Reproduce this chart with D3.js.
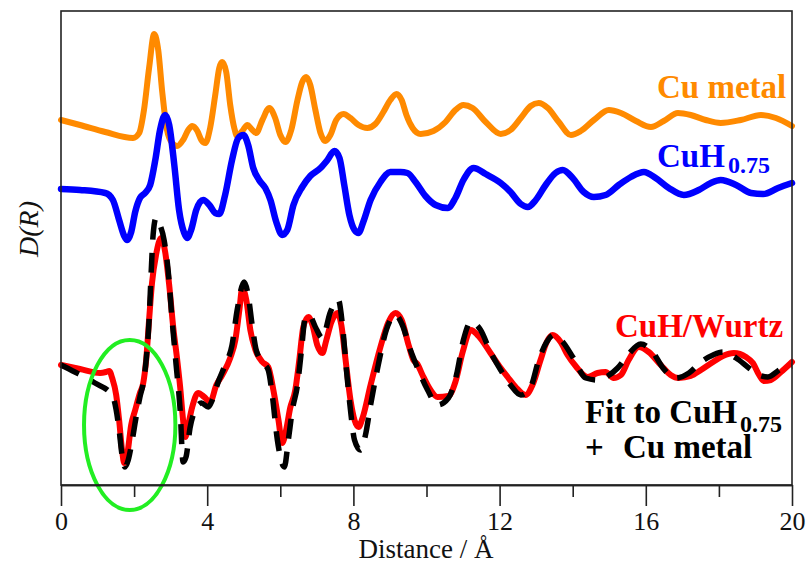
<!DOCTYPE html>
<html>
<head>
<meta charset="utf-8">
<script src="https://cdn.jsdelivr.net/npm/d3@7/dist/d3.min.js"></script>
<style>
  html, body { margin: 0; padding: 0; background: #fff; }
  svg { display: block; }
  text { font-family: "Liberation Serif", "Times New Roman", serif; }
</style>
</head>
<body>
<svg id="chart" width="809" height="565"></svg>
<script>
// Radial distribution D(R) versus distance (Å); curves are offset vertically.
const xTicksMajor = [0, 4, 8, 12, 16, 20];
const xTicksMinor = [2, 6, 10, 14, 18];

// Cu metal reference
const cuMetalR = [0,0.52,1.21,1.97,2.14,2.27,2.41,2.55,2.66,2.77,2.90,3.04,3.18,3.34,3.48,3.59,3.73,3.84,3.95,4.08,4.22,4.33,4.41,4.52,4.63,4.74,4.82,4.96,5.10,5.21,5.34,5.51,5.70,5.86,6.00,6.14,6.30,6.47,6.60,6.71,6.82,6.96,7.10,7.23,7.37,7.53,7.73,7.92,8.14,8.38,8.60,8.82,9.01,9.18,9.32,9.45,9.62,9.84,10.19,10.52,10.79,11.01,11.26,11.62,12.03,12.30,12.58,12.85,13.07,13.32,13.62,13.95,14.22,14.58,14.99,15.32,15.73,16.14,16.49,16.88,17.23,17.64,18.05,18.60,19.15,19.56,20];
const cuMetalD = [36.5,36.0,35.3,34.7,35.2,37.5,41.7,45.1,43.5,39.3,35.5,34.2,33.9,34.5,35.5,35.9,35.4,34.5,34.2,35.7,39.0,41.7,42.3,41.3,38.0,35.7,34.9,35.4,36.0,35.6,35.2,36.5,37.7,36.7,35.0,34.3,35.5,38.5,40.3,40.8,40.0,37.5,35.2,34.4,35.0,36.5,37.1,36.7,36.0,35.7,36.1,37.3,38.5,39.1,38.5,37.0,35.7,35.1,35.4,36.3,37.5,38.0,37.7,36.3,35.1,35.5,36.7,37.9,38.2,37.7,36.3,35.0,35.4,36.5,37.5,37.2,36.4,35.8,36.4,37.2,37.0,36.5,36.2,36.5,37.0,36.7,35.9];

// CuH0.75 reference
const cuhR = [0,0.52,1.21,1.42,1.59,1.73,1.81,1.92,2.03,2.16,2.30,2.44,2.58,2.71,2.85,2.96,3.10,3.23,3.37,3.45,3.56,3.70,3.89,4.08,4.22,4.33,4.49,4.68,4.85,4.99,5.12,5.26,5.42,5.59,5.73,5.89,6.05,6.19,6.36,6.60,6.82,7.10,7.29,7.48,7.62,7.75,7.89,8.03,8.14,8.27,8.47,8.74,9.01,9.29,9.48,9.70,9.97,10.25,10.58,10.79,11.01,11.29,11.62,12.03,12.30,12.58,12.77,12.99,13.26,13.53,13.73,14.00,14.30,14.58,14.90,15.26,15.59,15.95,16.27,16.63,17.04,17.45,17.78,18.05,18.47,18.88,19.21,19.62,20];
const cuhD = [29.6,29.5,29.2,28.5,26.5,24.9,24.5,25.3,27.3,28.7,29.2,30.0,32.5,35.5,37.0,36.0,32.0,27.5,25.2,24.7,25.5,27.5,28.5,27.9,27.2,27.1,29.0,32.5,34.7,35.0,34.0,31.7,30.5,29.7,28.5,26.3,25.0,25.5,28.0,29.8,30.9,31.7,32.5,33.4,32.7,30.0,27.0,25.5,25.2,26.3,28.5,30.3,31.3,31.3,31.2,30.3,28.9,28.0,27.7,28.7,30.5,31.7,31.1,30.2,29.3,28.1,27.8,28.5,30.0,31.2,31.5,30.7,29.3,28.8,29.0,30.0,30.8,31.3,30.7,29.7,29.0,29.5,30.2,30.5,30.0,29.2,29.1,29.7,30.2];

// CuH/Wurtz sample
const wurtzR = [0,0.52,1.07,1.23,1.32,1.40,1.51,1.59,1.67,1.73,1.81,1.92,2.03,2.16,2.25,2.33,2.41,2.49,2.60,2.74,2.85,2.96,3.07,3.18,3.26,3.34,3.40,3.48,3.59,3.75,3.92,4.08,4.25,4.41,4.63,4.77,4.88,4.96,5.07,5.18,5.32,5.51,5.67,5.81,5.95,6.05,6.16,6.27,6.41,6.52,6.63,6.77,6.88,7.01,7.15,7.26,7.40,7.56,7.67,7.78,7.92,8.03,8.14,8.25,8.47,8.74,8.96,9.15,9.32,9.51,9.64,9.75,9.89,10.11,10.30,10.60,10.79,10.99,11.21,11.42,11.75,12.03,12.22,12.44,12.71,12.90,13.12,13.29,13.45,13.67,13.86,14.08,14.41,14.68,14.90,15.12,15.32,15.53,15.81,16.08,16.41,16.68,16.90,17.23,17.51,17.84,18.11,18.41,18.74,18.93,19.10,19.23,19.42,19.70,20];
const wurtzD = [12.0,11.6,11.2,11.3,11.4,10.7,9.0,6.5,3.5,2.2,3.0,6.0,7.5,9.2,10.2,12.5,16.5,20.2,23.0,24.7,23.3,20.0,15.8,12.5,9.8,6.5,4.8,6.0,7.8,9.2,8.8,8.3,10.0,11.0,12.7,14.5,17.5,19.7,18.5,15.5,13.5,12.3,11.8,9.5,6.5,4.2,5.5,7.7,9.5,12.5,15.8,16.8,16.0,14.0,13.2,14.5,16.3,17.2,16.0,12.7,8.5,6.5,5.8,6.7,10.0,13.8,16.3,17.2,16.5,14.0,12.5,12.1,11.0,9.5,8.8,8.9,10.3,13.3,15.5,14.9,13.2,11.7,10.8,9.8,9.0,10.0,12.5,14.3,15.0,14.3,13.0,11.9,10.8,11.2,11.3,10.7,11.0,12.5,13.8,13.3,12.0,11.0,10.7,10.9,11.5,12.3,12.9,13.2,12.8,12.2,11.0,10.4,10.5,11.3,12.3];

// Two-phase fit: CuH0.75 + Cu metal
const fitR = [0,0.38,0.93,1.40,1.51,1.59,1.67,1.75,1.84,1.95,2.05,2.16,2.25,2.33,2.41,2.47,2.52,2.60,2.71,2.82,2.93,3.04,3.15,3.26,3.34,3.42,3.53,3.67,3.84,4.03,4.14,4.30,4.49,4.68,4.82,5.01,5.12,5.23,5.34,5.51,5.67,5.78,5.92,6.11,6.22,6.33,6.47,6.58,6.68,6.79,6.96,7.15,7.37,7.59,7.70,7.81,7.92,8.03,8.19,8.33,8.47,8.68,8.90,9.15,9.34,9.56,9.78,10.03,10.30,10.60,10.82,11.01,11.21,11.48,11.75,12.03,12.30,12.58,12.85,13.07,13.29,13.48,13.73,14.00,14.36,14.68,14.96,15.23,15.51,15.86,16.19,16.47,16.82,17.18,17.51,17.84,18.11,18.47,18.82,19.10,19.34,19.70,20];
const fitD = [12.0,11.3,10.2,9.0,7.5,5.5,3.0,1.8,2.5,4.5,6.7,8.8,10.2,12.5,16.5,21.5,25.0,26.7,26.0,24.5,21.5,16.5,12.0,7.5,2.3,2.8,5.7,7.5,8.2,7.8,8.5,10.3,12.0,14.0,17.5,20.3,19.0,16.0,13.5,12.3,11.5,9.0,4.5,1.8,4.5,7.5,10.0,13.5,16.7,17.0,15.8,14.7,17.3,18.5,16.0,11.5,7.5,4.5,3.5,5.0,8.0,12.0,15.5,17.0,16.0,13.5,11.5,9.5,8.0,8.7,11.0,14.5,16.3,15.5,13.3,11.5,10.0,9.0,9.8,12.5,14.3,15.0,14.3,12.8,10.7,10.5,10.9,11.7,13.0,14.1,13.3,11.7,10.7,11.2,12.3,13.0,13.3,12.7,11.7,11.0,10.8,11.6,11.9];

const W = 809, H = 565;
const margin = { top: 11, right: 17, bottom: 80, left: 61 };
const innerW = W - margin.left - margin.right;
const innerH = H - margin.top - margin.bottom;

const svg = d3.select('#chart');

const x = d3.scaleLinear().domain([0, 20]).range([margin.left, margin.left + innerW]);
const y = d3.scaleLinear().domain([0, 47.4]).range([margin.top + innerH, margin.top]);

const line = d3.line()
  .x(d => x(d[0]))
  .y(d => y(d[1]))
  .curve(d3.curveMonotoneX);

const zip = (a, b) => a.map((v, i) => [v, b[i]]);

const series = [
  { r: cuMetalR, d: cuMetalD, color: '#ff8a00', width: 6 },
  { r: cuhR, d: cuhD, color: '#0000ff', width: 6.5 },
  { r: wurtzR, d: wurtzD, color: '#ff0000', width: 6 }
];

const plot = svg.append('g');
series.forEach(s => {
  plot.append('path')
    .datum(zip(s.r, s.d))
    .attr('d', line)
    .attr('fill', 'none')
    .attr('stroke', s.color)
    .attr('stroke-width', s.width)
    .attr('stroke-linejoin', 'round')
    .attr('stroke-linecap', 'round');
});

// Fit drawn dashed over the sample curve
plot.append('path')
  .datum(zip(fitR, fitD))
  .attr('d', line)
  .attr('fill', 'none')
  .attr('stroke', '#000')
  .attr('stroke-width', 5.5)
  .attr('stroke-dasharray', '20,13')
  .attr('stroke-linejoin', 'round');

// Highlight around the first-shell dip
const ellC = [1.88, 6.0], ellR = [1.25, 8.5];
svg.append('ellipse')
  .attr('cx', x(ellC[0]))
  .attr('cy', y(ellC[1]))
  .attr('rx', x(ellC[0] + ellR[0]) - x(ellC[0]))
  .attr('ry', y(ellC[1] - ellR[1]) - y(ellC[1]))
  .attr('fill', 'none')
  .attr('stroke', '#22ee22')
  .attr('stroke-width', 4);

// Frame
svg.append('rect')
  .attr('x', margin.left).attr('y', margin.top)
  .attr('width', innerW).attr('height', innerH)
  .attr('fill', 'none').attr('stroke', '#222').attr('stroke-width', 1.6);

// Bottom axis: labelled major ticks and unlabelled minor ticks
const axisMajor = svg.append('g')
  .attr('transform', `translate(0,${y(0)})`)
  .call(d3.axisBottom(x).tickValues(xTicksMajor).tickSize(21).tickPadding(6).tickSizeOuter(0));
const axisMinor = svg.append('g')
  .attr('transform', `translate(0,${y(0)})`)
  .call(d3.axisBottom(x).tickValues(xTicksMinor).tickSize(12).tickFormat('').tickSizeOuter(0));
[axisMajor, axisMinor].forEach(g => {
  g.select('.domain').attr('stroke', '#222').attr('stroke-width', 1.6);
  g.selectAll('.tick line').attr('stroke', '#222').attr('stroke-width', 1.6);
  g.selectAll('.tick text')
    .attr('fill', '#111')
    .style('font-family', '"Liberation Serif", "Times New Roman", serif')
    .style('font-size', '26px');
});

svg.append('text')
  .attr('x', 426).attr('y', 558)
  .attr('text-anchor', 'middle')
  .attr('fill', '#111')
  .style('font-size', '27px')
  .text('Distance / Å');

svg.append('text')
  .attr('transform', 'translate(38,229) rotate(-90)')
  .attr('text-anchor', 'middle')
  .attr('fill', '#111')
  .style('font-size', '28px')
  .style('font-style', 'italic')
  .text('D(R)');

// Curve labels
function label(txt, px, py, color, size) {
  return svg.append('text')
    .attr('x', px).attr('y', py)
    .attr('fill', color)
    .style('font-size', size + 'px')
    .style('font-weight', 'bold')
    .style('white-space', 'pre')
    .text(txt);
}
label('Cu metal', 657, 98, '#ff8a00', 33);
label('CuH', 657, 167, '#0000ff', 33);
label('0.75', 728, 173, '#0000ff', 24);
label('CuH/Wurtz', 615, 337, '#ff0000', 33);
label('Fit to CuH', 585, 423, '#000', 33);
label('0.75', 740, 432, '#000', 24);
label('+', 585, 458, '#000', 33);
label('Cu metal', 623, 458, '#000', 33);
</script>
</body>
</html>
